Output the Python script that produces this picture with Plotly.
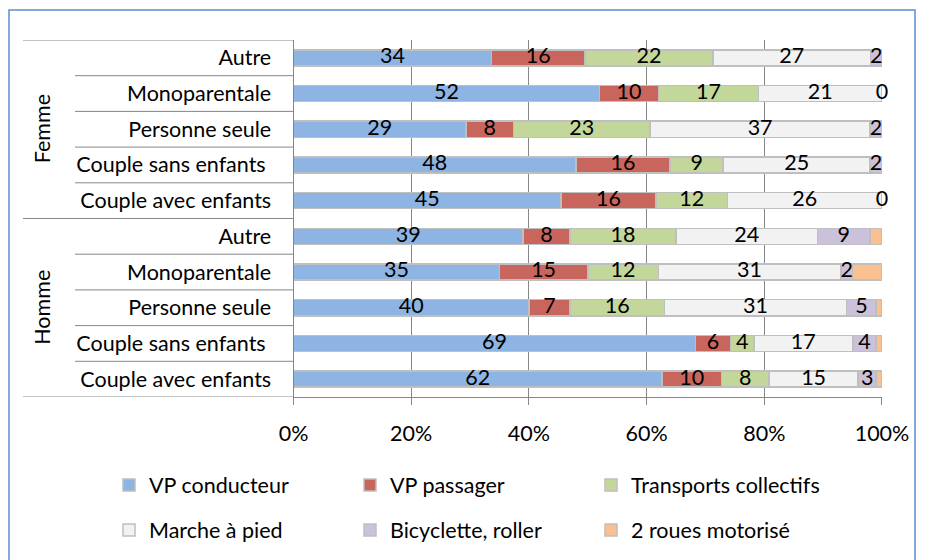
import plotly.graph_objects as go

# ---- data ----
groups = ["Femme", "Homme"]
households = ["Autre", "Monoparentale", "Personne seule", "Couple sans enfants", "Couple avec enfants"]
modes = ["VP conducteur", "VP passager", "Transports collectifs",
         "Marche à pied", "Bicyclette, roller", "2 roues motorisé"]
# rows top->bottom: Femme (5 households) then Homme (5 households)
vp_conducteur = [34, 52, 29, 48, 45, 39, 35, 40, 69, 62]
vp_passager = [16, 10, 8, 16, 16, 8, 15, 7, 6, 10]
transports_collectifs = [22, 17, 23, 9, 12, 18, 12, 16, 4, 8]
marche_a_pied = [27, 21, 37, 25, 26, 24, 31, 31, 17, 15]
bicyclette_roller = [2, 0, 2, 2, 0, 9, 2, 5, 4, 3]
deux_roues_motorise = [0, 0, 0, 0, 0, 2, 5, 1, 1, 1]
tick_labels = ["0%", "20%", "40%", "60%", "80%", "100%"]

series = [vp_conducteur, vp_passager, transports_collectifs,
          marche_a_pied, bicyclette_roller, deux_roues_motorise]
show_labels = [True, True, True, True, True, False]
colors = ["#8DB4E2", "#C8665E", "#C4D79B", "#F2F2F2", "#CCC1DA", "#FAC090"]

FONT = "Lato"
FS = 21.5
W, H = 925, 560
OFF = 8  # page body margin
PX_L, PX_R, PX_T, PX_B = 293.5 - OFF, 882.0 - OFF, 40.0 - OFF, 397.0 - OFF

n = len(vp_conducteur)
ypos = [n - 1 - i for i in range(n)]
row_labels = households + households
row_labels = [("Couple sans enfants\u00a0" if r == "Couple sans enfants" else r) for r in row_labels]

def xp(px):
    return px / W

def yp(py):
    return (PX_B - py) / (PX_B - PX_T)

# legend slots (figure pixel positions of each legend entry)
leg_x = [101, 342, 583, 101, 342, 583]
leg_y = [477, 477, 477, 522, 522, 522]
leg_names = ["legend", "legend2", "legend3", "legend4", "legend5", "legend6"]

fig = go.Figure()
for k, (name, vals) in enumerate(zip(modes, series)):
    fig.add_trace(go.Bar(
        y=ypos, x=vals, name=name, orientation="h",
        marker=dict(color=colors[k], line=dict(color="#BFBFBF", width=1.5)),
        width=0.45, hoverinfo="skip",
        legend=leg_names[k],
    ))

# data labels at segment centres (normalised as in a 100% stacked chart)
tx, ty, tt = [], [], []
for i in range(n):
    total = sum(s[i] for s in series)
    cum = 0.0
    for k, s in enumerate(series):
        v = s[i] / total * 100
        if show_labels[k]:
            tx.append(round(min(cum + v / 2, 99.999), 4))
            ty.append(ypos[i])
            tt.append(str(s[i]))
        cum += v
fig.add_trace(go.Scatter(x=tx, y=ty, text=tt, mode="text", showlegend=False,
                         textfont=dict(family=FONT, size=FS, color="black"),
                         hoverinfo="skip", cliponaxis=False))

shapes = []
line_col = "#868686"
for j in range(n + 1):
    yv = j - 0.5
    is_group = j in (0, 5, 10)
    shapes.append(dict(type="line", xref="paper", yref="y",
                       x0=xp((23 if is_group else 75) - OFF), x1=xp(PX_L), y0=yv, y1=yv,
                       line=dict(color=line_col, width=1)))
# outer chart border
shapes.append(dict(type="rect", xref="paper", yref="paper",
                   x0=xp(9 - OFF), x1=xp(915 - OFF), y0=yp(600), y1=yp(10 - OFF),
                   line=dict(color="#5B8FCF", width=1.5), fillcolor="rgba(0,0,0,0)", layer="below"))

annotations = []
for g, name in enumerate(groups):
    yc = (n - 1) - (g * 5 + 2)
    annotations.append(dict(text=name, x=xp(42 - OFF), y=yc, xref="paper", yref="y",
                            xanchor="center", yanchor="middle",
                            textangle=-90, showarrow=False,
                            font=dict(family=FONT, size=FS, color="black")))

layout_legends = {}
for k, ln in enumerate(leg_names):
    layout_legends[ln] = dict(orientation="h", x=xp(leg_x[k]), y=yp(leg_y[k]),
                              xanchor="left", yanchor="middle",
                              font=dict(family=FONT, size=FS, color="black"),
                              bgcolor="rgba(0,0,0,0)", borderwidth=0)

fig.update_layout(
    width=W, height=H,
    margin=dict(l=0, r=0, t=PX_T, b=H - PX_B, autoexpand=False),
    paper_bgcolor="white", plot_bgcolor="white",
    barmode="stack", barnorm="percent",
    font=dict(family=FONT, size=FS, color="black"),
    shapes=shapes, annotations=annotations,
    xaxis=dict(domain=[xp(PX_L), xp(PX_R)], range=[0, 100.001], tickvals=[0, 20, 40, 60, 80, 100],
               ticktext=tick_labels, showgrid=True, gridcolor=line_col, gridwidth=1,
               showline=True, linecolor=line_col, linewidth=1, ticks="outside",
               ticklen=7, tickcolor=line_col, zeroline=False, ticklabelstandoff=10,
               tickfont=dict(family=FONT, size=FS), fixedrange=True),
    yaxis=dict(range=[-0.5, n - 0.5], tickvals=ypos, ticktext=row_labels,
               showgrid=False, showline=True, linecolor=line_col, linewidth=1,
               ticks="", zeroline=False, ticklabelstandoff=17,
               tickfont=dict(family=FONT, size=FS), fixedrange=True),
    **layout_legends,
)

fig.write_html("out.html")
